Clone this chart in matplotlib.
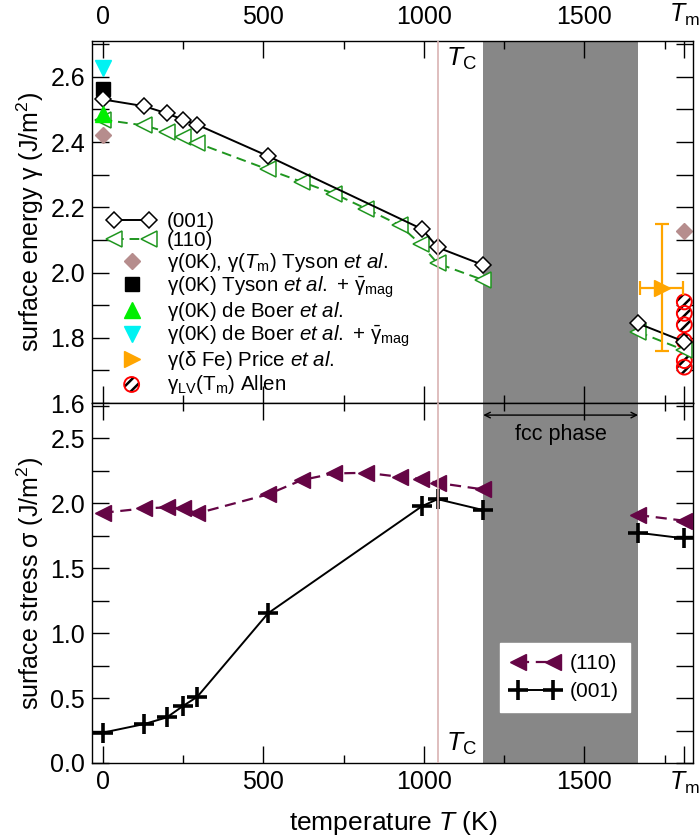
import numpy as np
import matplotlib
matplotlib.use('Agg')
import matplotlib.pyplot as plt
from matplotlib.legend_handler import HandlerTuple, HandlerLine2D
from matplotlib.ticker import FixedLocator, MultipleLocator

plt.rcParams['font.family'] = ['Liberation Sans', 'DejaVu Sans']
plt.rcParams['mathtext.fontset'] = 'custom'
plt.rcParams['mathtext.rm'] = 'Liberation Sans'
plt.rcParams['mathtext.it'] = 'Liberation Sans:italic'
plt.rcParams['mathtext.bf'] = 'Liberation Sans:bold'
plt.rcParams['hatch.linewidth'] = 1.8
plt.rcParams['hatch.color'] = 'black'

# ---------------- data ----------------
T_MELT = 1811
T_CURIE = 1043
FCC_START, FCC_END = 1185, 1667

# surface energy (top panel)
T_g001 = [0, 130, 200, 250, 295, 515, 995, 1043, 1185, 1667, 1811]
gamma_001 = [2.531, 2.510, 2.488, 2.469, 2.453, 2.357, 2.133, 2.077, 2.023, 1.844, 1.788]

T_g110 = [0, 130, 200, 250, 295, 515, 620, 720, 820, 925, 990, 1043, 1185, 1667, 1811]
gamma_110 = [2.469, 2.451, 2.431, 2.416, 2.397, 2.316, 2.278, 2.242, 2.196, 2.145,
             2.087, 2.028, 1.977, 1.818, 1.762]

T_tyson = [0, 1811]
gamma_tyson = [2.423, 2.128]
T_tyson_mag = [0]
gamma_tyson_mag = [2.564]
T_deboer = [0]
gamma_deboer = [2.487]
T_deboer_mag = [0]
gamma_deboer_mag = [2.628]
T_price = [1740]
gamma_price = [1.953]
T_price_err = [67]
gamma_price_err = [0.195]
T_allen = [1811, 1811, 1811, 1811, 1811, 1811]
gamma_allen = [1.910, 1.875, 1.840, 1.790, 1.730, 1.710]

# surface stress (bottom panel)
T_s110 = [0, 130, 200, 250, 295, 515, 620, 720, 820, 925, 990, 1043, 1185, 1667, 1811]
sigma_110 = [1.925, 1.959, 1.967, 1.959, 1.921, 2.067, 2.177, 2.228, 2.233, 2.202,
             2.185, 2.155, 2.105, 1.908, 1.864]
T_s001 = [0, 130, 200, 250, 295, 515, 995, 1043, 1185, 1667, 1811]
sigma_001 = [0.233, 0.300, 0.351, 0.438, 0.510, 1.152, 1.977, 2.030, 1.946, 1.772, 1.728]

x_major = [0, 500, 1000, 1500, T_MELT]
x_major_labels = ['0', '500', '1000', '1500', r'$T_\mathrm{m}$']
x_minor = [250, 750, 1250, 1750]

# ---------------- figure ----------------
fig = plt.figure(figsize=(7.0, 8.36), dpi=100)
ax1 = fig.add_axes([92/700, (836-403)/836, 601/700, 362/836])
ax2 = fig.add_axes([92/700, (836-763)/836, 601/700, 360/836])

C_GREEN = '#1f961f'
C_PURPLE = '#650545'
C_BROWN = '#b68d8d'
C_ORANGE = '#ffa500'
C_TC = '#d9b3b3'
C_FCC = '#878787'


def split(T, v):
    T = np.asarray(T, float)
    v = np.asarray(v, float)
    lo = T <= FCC_START
    hi = T >= FCC_END
    return (T[lo], v[lo]), (T[hi], v[hi])


for ax in (ax1, ax2):
    ax.axvspan(FCC_START, FCC_END, color=C_FCC, lw=0, zorder=0.5)
    ax.axvline(T_CURIE, color=C_TC, lw=1.2, zorder=6)
    ax.set_xlim(-33, 1838)
    ax.xaxis.set_major_locator(FixedLocator(x_major))
    ax.xaxis.set_minor_locator(FixedLocator(x_minor))
    ax.set_xticklabels(x_major_labels)
    ax.tick_params(which='both', direction='in', top=True, right=True,
                   width=1.0, labelsize=18)
    ax.tick_params(axis='x', which='major', length=12)
    ax.tick_params(axis='x', which='minor', length=6)
    ax.tick_params(axis='y', which='both', length=12, pad=5)
    for s in ax.spines.values():
        s.set_linewidth(1.0)

# ---------- top panel ----------
(a_lo, a_hi) = split(T_g001, gamma_001)
(b_lo, b_hi) = split(T_g110, gamma_110)
h001 = None
for seg in (a_lo, a_hi):
    h001, = ax1.plot(seg[0], seg[1], '-', color='black', lw=1.4, marker='D', ms=8,
                     mfc='white', mec='black', mew=1.1, zorder=3)
h110 = None
for seg in (b_lo, b_hi):
    h110, = ax1.plot(seg[0], seg[1], '--', color=C_GREEN, lw=1.4, dashes=(5, 3),
                     marker='<', ms=12, mfc='white', mec=C_GREEN, mew=1.1, zorder=2.5)

h_sq, = ax1.plot(T_tyson_mag, gamma_tyson_mag, 's', color='black', ms=10, zorder=2.8)
h_ty, = ax1.plot(T_tyson, gamma_tyson, 'D', color=C_BROWN, ms=8, zorder=2)
h_db, = ax1.plot(T_deboer, gamma_deboer, '^', color='#00ee00', ms=11, zorder=4)
h_dbm, = ax1.plot(T_deboer_mag, gamma_deboer_mag, 'v', color='#00f2f2', ms=11, zorder=4)
eb = ax1.errorbar(T_price, gamma_price, xerr=T_price_err, yerr=gamma_price_err,
                  fmt='>', color=C_ORANGE, ms=11, elinewidth=1.6, capsize=5,
                  capthick=1.6, zorder=3)
h_pr = eb[0]
h_al1 = ax1.scatter(T_allen, gamma_allen, s=115, facecolor='white', edgecolor='black',
                    linewidths=0.01, hatch='///', zorder=2.2)
if hasattr(h_al1, 'set_hatchcolor'):
    h_al1.set_hatchcolor('black')
h_al2 = ax1.scatter(T_allen, gamma_allen, s=115, facecolor='none', edgecolor='red',
                    linewidths=1.4, zorder=2.3)

ax1.set_ylim(1.6, 2.71)
ax1.yaxis.set_major_locator(MultipleLocator(0.2))
ax1.yaxis.set_minor_locator(FixedLocator([1.7, 1.9, 2.1, 2.3, 2.5, 2.7]))
ax1.yaxis.set_major_formatter(plt.FormatStrFormatter('%.1f'))
ax1.tick_params(axis='x', labeltop=True, labelbottom=False, pad=9)
ax1.set_ylabel(r'surface energy γ (J/m$^2$)', fontsize=18)
ax1.yaxis.set_label_coords(-0.077, 0.5)
ax1.text(1070, 2.695, r'$T_\mathrm{C}$', fontsize=19, ha='left', va='top')

single = HandlerLine2D(numpoints=1)
leg1 = ax1.legend(
    [h001, h110, h_ty, h_sq, h_db, h_dbm, h_pr, (h_al1, h_al2)],
    ['(001)', '(110)',
     r'γ(0K), γ($T_\mathrm{m}$) Tyson $et\ al.$',
     r'γ(0K) Tyson $et\ al.$ + $\bar{\mathrm{\gamma}}_\mathrm{mag}$',
     r'γ(0K) de Boer $et\ al.$',
     r'γ(0K) de Boer $et\ al.$ + $\bar{\mathrm{\gamma}}_\mathrm{mag}$',
     r'γ(δ Fe) Price $et\ al.$',
     r'γ$_\mathrm{LV}$(T$_\mathrm{m}$) Allen'],
    handler_map={h_ty: single, h_sq: single, h_db: single, h_dbm: single,
                 h_pr: single, tuple: HandlerTuple(ndivide=1)},
    loc='upper left', bbox_to_anchor=((108-92)/601, (403-212)/362),
    borderaxespad=0, borderpad=0, frameon=False, fontsize=14.8, numpoints=2,
    scatterpoints=1, handlelength=2.3, handletextpad=0.55, labelspacing=0.02)

# ---------- bottom panel ----------
(c_lo, c_hi) = split(T_s110, sigma_110)
(d_lo, d_hi) = split(T_s001, sigma_001)
hs110 = None
for seg in (c_lo, c_hi):
    hs110, = ax2.plot(seg[0], seg[1], '--', color=C_PURPLE, lw=1.6, dashes=(5, 3),
                      marker='<', ms=12, mfc=C_PURPLE, mec=C_PURPLE, zorder=3)
hs001 = None
for seg in (d_lo, d_hi):
    hs001, = ax2.plot(seg[0], seg[1], '-', color='black', lw=1.4, marker='+', ms=14,
                      mew=2.6, zorder=3)

ax2.set_ylim(0, 2.77)
ax2.yaxis.set_major_locator(MultipleLocator(0.5))
ax2.yaxis.set_minor_locator(FixedLocator([0.25, 0.75, 1.25, 1.75, 2.25, 2.75]))
ax2.yaxis.set_major_formatter(plt.FormatStrFormatter('%.1f'))
ax2.tick_params(axis='x', labeltop=False, labelbottom=True, pad=5)
ax2.set_ylabel(r'surface stress σ (J/m$^2$)', fontsize=18)
ax2.yaxis.set_label_coords(-0.077, 0.5)
ax2.set_xlabel(r'temperature $T$ (K)', fontsize=19)
ax2.xaxis.set_label_coords(0.502, -0.128)
ax2.text(1068, 0.25, r'$T_\mathrm{C}$', fontsize=19, ha='left', va='top')

ax2.annotate('', xy=(FCC_START, 2.677), xytext=(FCC_END, 2.677),
             arrowprops=dict(arrowstyle='<->', lw=1.0, color='black',
                             shrinkA=0, shrinkB=0), zorder=7)
ax2.text((FCC_START + FCC_END) / 2, 2.53, 'fcc phase', fontsize=15.5,
         ha='center', va='center', zorder=7)

leg2 = ax2.legend([hs110, hs001], ['(110)', '(001)'], loc='upper left',
                  bbox_to_anchor=((500-92)/601, (763-643)/360), borderaxespad=0,
                  borderpad=0.55, fancybox=False, framealpha=1, facecolor='white',
                  edgecolor='white', fontsize=15, numpoints=2, handlelength=2.3,
                  handletextpad=0.5, labelspacing=0.4)
leg2.set_zorder(8)

fig.savefig('out.png', dpi=100)
